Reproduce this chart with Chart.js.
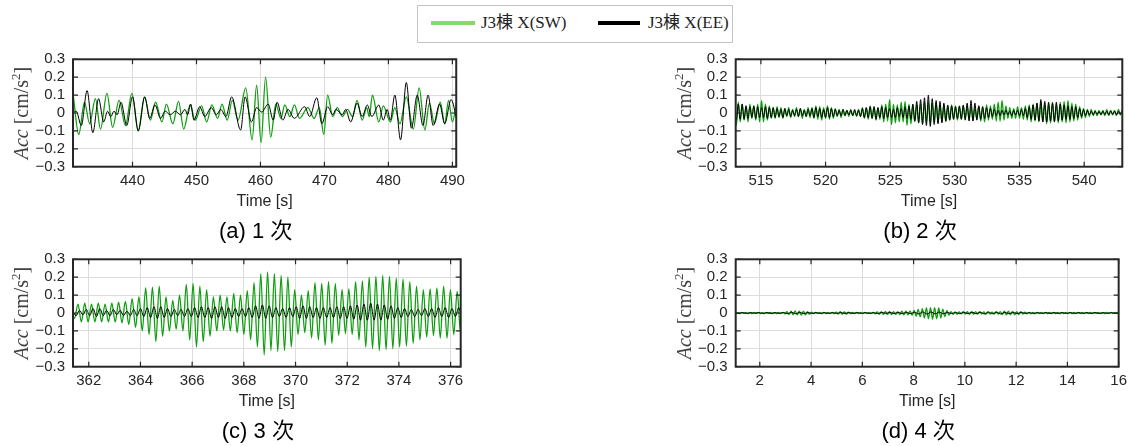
<!DOCTYPE html>
<html><head><meta charset="utf-8">
<script src="https://cdn.jsdelivr.net/npm/chart.js@4.4.0/dist/chart.umd.min.js"></script>
<style>
html,body{margin:0;padding:0;background:#fff;overflow:hidden;width:1133px;height:446px;}
canvas{position:absolute;}
#legend{position:absolute;left:417px;top:5px;width:316px;height:38px;border:1px solid #c4c4c4;background:#fff;box-sizing:border-box;font-family:"Liberation Serif","Noto Sans CJK JP",serif;font-size:17px;color:#222;}
.sw{position:absolute;height:4px;top:15px;}
.lt{position:absolute;top:7px;line-height:20px;white-space:nowrap;}
</style></head><body>
<div id="legend">
 <div class="sw" style="left:13px;width:44px;background:#86d96b"></div>
 <div class="lt" id="lg0" style="left:63px"></div>
 <div class="sw" style="left:180px;width:42px;background:#000"></div>
 <div class="lt" id="lg1" style="left:230px"></div>
</div>
<canvas id="ca" width="470" height="200" style="left:0px;top:50px"></canvas>
<canvas id="cb" width="470" height="200" style="left:662px;top:50px"></canvas>
<canvas id="cc" width="470" height="200" style="left:0px;top:250px"></canvas>
<canvas id="cd" width="470" height="200" style="left:662px;top:250px"></canvas>
<script>
// ---------- labels ----------
const seriesNames = ['J3棟 X(SW)', 'J3棟 X(EE)'];
const panelTitles = ['(a) 1 次', '(b) 2 次', '(c) 3 次', '(d) 4 次'];
const xTitle = 'Time [s]';
const yTickVals = [-0.3, -0.2, -0.1, 0, 0.1, 0.2, 0.3];
const yTickLabels = ['−0.3', '−0.2', '−0.1', '0', '0.1', '0.2', '0.3'];

// ---------- (a) 1 次 ----------
const aRange = [430.7, 490.6];
const aTicks = [440, 450, 460, 470, 480, 490];
const aSWTimes = [430.7,431.6,432.5,433.3,434.2,435.0,436.0,436.9,437.9,438.9,439.9,440.9,441.9,442.8,443.6,444.6,445.3,446.3,447.2,448.0,449.0,449.8,450.8,451.6,452.4,453.3,454.0,454.8,455.6,456.5,457.7,458.7,459.4,460.1,460.8,461.6,462.4,463.2,463.8,464.6,465.3,466.1,467.4,468.4,469.2,469.9,470.5,471.3,472.0,472.8,473.6,474.4,475.1,475.9,476.6,477.0,477.5,478.5,479.2,480.3,481.0,481.8,482.8,483.9,484.8,485.7,486.4,487.2,488.1,488.8,489.4,490.0,490.7];
const aSWAcc = [0.11,-0.12,0.06,-0.06,0.08,-0.09,0.11,-0.08,0.07,-0.07,0.11,-0.1,0.09,-0.04,0.06,-0.05,0.05,-0.06,0.065,-0.09,0.045,-0.04,0.04,-0.05,0.045,-0.03,0.05,-0.04,0.07,-0.04,0.14,-0.15,0.155,-0.165,0.2,-0.135,0.05,-0.03,0.045,-0.02,0.045,-0.03,0.03,-0.03,0.03,-0.12,0.1,-0.02,0.03,-0.02,0.02,-0.02,0.07,-0.04,0.03,-0.02,0.1,-0.05,0.04,-0.05,0.03,-0.06,0.09,-0.09,0.14,-0.095,0.055,-0.06,0.06,-0.06,0.07,-0.05,0.07];
const aEETimes = [430.7,431.2,432.0,432.9,433.8,434.7,435.5,436.1,436.6,437.1,437.6,438.2,439.1,440.0,440.9,441.9,442.7,443.5,444.4,445.1,445.9,446.7,447.5,448.2,448.6,449.1,449.6,450.5,451.3,452.3,453.1,453.8,454.6,455.5,456.9,457.6,458.6,459.4,460.2,461.2,462.0,462.6,463.5,464.3,465.3,466.9,467.7,468.8,469.6,470.5,471.3,471.8,472.8,473.3,474.1,475.1,475.9,476.7,477.4,478.5,479.2,479.8,480.3,481.0,481.9,482.8,483.6,484.5,485.4,486.2,487.0,488.0,488.8,489.8,490.7];
const aEEAcc = [0.0,0.01,-0.07,0.125,-0.11,0.08,-0.05,0.01,-0.02,0.01,-0.01,0.06,-0.07,0.09,-0.1,0.09,-0.03,0.045,-0.03,0.01,-0.01,0.01,-0.01,0.02,-0.01,0.05,-0.04,0.035,-0.02,0.03,-0.01,0.02,-0.02,0.09,-0.095,0.09,-0.05,0.03,0.005,0.05,-0.04,0.06,-0.04,0.02,-0.03,0.035,-0.02,0.085,-0.06,0.035,-0.01,0.02,-0.01,0.02,-0.05,0.055,-0.02,0.045,-0.02,0.045,-0.04,0.02,-0.04,0.1,-0.15,0.17,-0.085,0.1,-0.07,0.1,-0.07,0.05,-0.06,0.075,-0.04];

// ---------- (b) 2 次 (sampled every bStep s) ----------
const bRange = [513.05, 542.95];
const bTicks = [515, 520, 525, 530, 535, 540];
const bStep = 0.15;
const bSWStart = 512.95;
const bSWAcc = [
0.02,-0.07,0.06,-0.05,0.05,-0.04,0.04,-0.05,0.05,-0.03,0.04,-0.04,0.05,-0.05,0.07,-0.05,0.05,-0.04,0.04,-0.03,
0.03,-0.03,0.035,-0.025,0.03,-0.03,0.025,-0.02,0.03,-0.025,0.02,-0.02,0.03,-0.02,0.025,-0.03,0.02,-0.02,0.03,-0.025,
0.03,-0.03,0.04,-0.035,0.035,-0.04,0.03,-0.03,0.04,-0.035,0.03,-0.03,0.025,-0.02,0.02,-0.025,0.02,-0.015,0.015,-0.02,
0.02,-0.015,0.015,-0.02,0.02,-0.02,0.03,-0.03,0.03,-0.035,0.04,-0.03,0.035,-0.04,0.03,-0.035,0.045,-0.05,0.05,-0.045,
0.075,-0.065,0.05,-0.055,0.045,-0.05,0.06,-0.05,0.065,-0.07,0.05,-0.06,0.045,-0.05,0.05,-0.055,0.055,-0.06,0.06,-0.055,
0.06,-0.06,0.055,-0.05,0.06,-0.055,0.05,-0.05,0.045,-0.05,0.04,-0.04,0.045,-0.035,0.04,-0.04,0.035,-0.035,0.04,-0.03,
0.04,-0.035,0.035,-0.04,0.03,-0.035,0.04,-0.045,0.035,-0.05,0.045,-0.04,0.04,-0.035,0.05,-0.045,0.06,-0.045,0.07,-0.04,
0.04,-0.03,0.03,-0.03,0.025,-0.03,0.035,-0.03,0.03,-0.035,0.04,-0.04,0.045,-0.05,0.05,-0.045,0.055,-0.05,0.06,-0.05,
0.055,-0.06,0.05,-0.055,0.06,-0.05,0.05,-0.055,0.06,-0.05,0.065,-0.055,0.07,-0.05,0.055,-0.045,0.05,-0.04,0.035,-0.03,
0.025,-0.025,0.02,-0.02,0.02,-0.015,0.015,-0.015,0.015,-0.01,0.015,-0.015,0.02,-0.015,0.015,-0.01,0.015,-0.015,0.02,-0.01,
0.015,-0.01];
const bEEStart = 512.95;
const bEEAcc = [
0.03,-0.04,0.05,-0.035,0.05,-0.035,0.04,-0.03,0.035,-0.025,0.04,-0.03,0.035,-0.025,0.03,-0.025,0.035,-0.03,0.03,-0.025,
0.03,-0.025,0.025,-0.02,0.02,-0.025,0.025,-0.015,0.02,-0.02,0.015,-0.015,0.02,-0.02,0.025,-0.015,0.015,-0.02,0.02,-0.015,
0.025,-0.025,0.03,-0.02,0.025,-0.025,0.02,-0.025,0.03,-0.025,0.025,-0.02,0.02,-0.015,0.015,-0.015,0.02,-0.015,0.015,-0.01,
0.015,-0.015,0.02,-0.015,0.015,-0.02,0.025,-0.025,0.03,-0.025,0.035,-0.03,0.035,-0.035,0.03,-0.025,0.035,-0.03,0.03,-0.025,
0.025,-0.025,0.02,-0.025,0.03,-0.02,0.025,-0.025,0.035,-0.03,0.04,-0.035,0.05,-0.045,0.065,-0.055,0.075,-0.065,0.085,-0.07,
0.1,-0.075,0.08,-0.065,0.07,-0.06,0.065,-0.055,0.055,-0.045,0.045,-0.04,0.04,-0.035,0.035,-0.03,0.04,-0.035,0.045,-0.04,
0.055,-0.045,0.07,-0.045,0.055,-0.04,0.04,-0.035,0.035,-0.03,0.03,-0.025,0.025,-0.02,0.02,-0.015,0.015,-0.015,0.015,-0.01,
0.015,-0.01,0.01,-0.015,0.015,-0.01,0.015,-0.015,0.02,-0.015,0.025,-0.025,0.035,-0.035,0.045,-0.04,0.055,-0.045,0.075,-0.05,
0.065,-0.05,0.06,-0.045,0.055,-0.05,0.06,-0.045,0.05,-0.04,0.045,-0.035,0.04,-0.035,0.035,-0.03,0.035,-0.025,0.025,-0.02,
0.02,-0.015,0.015,-0.01,0.01,-0.01,0.01,-0.008,0.008,-0.01,0.01,-0.008,0.01,-0.01,0.012,-0.008,0.01,-0.01,0.01,-0.008,
0.01,-0.01];

// ---------- (c) 3 次 (sampled every cStep s) ----------
const cRange = [361.39, 376.39];
const cTicks = [362, 364, 366, 368, 370, 372, 374, 376];
const cStep = 0.131;
const cSWStart = 361.32;
const cSWAcc = [
0.04,-0.03,0.05,-0.05,0.055,-0.05,0.05,-0.05,0.055,-0.05,0.05,-0.05,0.055,-0.05,0.06,-0.055,0.065,-0.065,0.08,-0.08,
0.09,-0.1,0.14,-0.12,0.145,-0.16,0.15,-0.13,0.09,-0.1,0.07,-0.09,0.1,-0.1,0.16,-0.15,0.165,-0.19,0.15,-0.16,
0.13,-0.13,0.09,-0.1,0.1,-0.095,0.09,-0.1,0.11,-0.11,0.1,-0.12,0.125,-0.15,0.17,-0.19,0.22,-0.235,0.23,-0.21,
0.22,-0.215,0.21,-0.21,0.2,-0.19,0.13,-0.12,0.1,-0.11,0.125,-0.14,0.17,-0.15,0.165,-0.18,0.175,-0.17,0.165,-0.125,
0.13,-0.115,0.135,-0.12,0.175,-0.15,0.18,-0.19,0.2,-0.2,0.205,-0.21,0.21,-0.205,0.205,-0.2,0.195,-0.19,0.19,-0.185,
0.175,-0.17,0.15,-0.15,0.13,-0.135,0.135,-0.125,0.14,-0.14,0.15,-0.14,0.13,-0.12,0.12,-0.11,0.12];
const cEEStart = 361.38;
const cEEAcc = [
0.01,-0.015,0.015,-0.01,0.02,-0.015,0.025,-0.02,0.025,-0.015,0.015,-0.015,0.02,-0.01,0.015,-0.015,0.01,-0.015,0.02,-0.015,
0.025,-0.02,0.03,-0.025,0.035,-0.03,0.035,-0.025,0.025,-0.02,0.02,-0.015,0.02,-0.02,0.025,-0.02,0.03,-0.025,0.035,-0.025,
0.03,-0.03,0.035,-0.025,0.035,-0.03,0.03,-0.025,0.025,-0.02,0.025,-0.02,0.03,-0.025,0.04,-0.03,0.045,-0.03,0.04,-0.025,
0.03,-0.02,0.025,-0.025,0.03,-0.02,0.035,-0.03,0.04,-0.03,0.035,-0.025,0.03,-0.03,0.03,-0.025,0.03,-0.025,0.035,-0.03,
0.035,-0.03,0.04,-0.035,0.045,-0.04,0.05,-0.04,0.055,-0.04,0.05,-0.04,0.045,-0.035,0.04,-0.03,0.03,-0.025,0.025,-0.02,
0.02,-0.02,0.02,-0.015,0.025,-0.02,0.025,-0.025,0.03,-0.02,0.03,-0.025,0.025,-0.02,0.03,-0.025,0.02];

// ---------- (d) 4 次 ----------
const dRange = [1.06, 16];
const dTicks = [2, 4, 6, 8, 10, 12, 14, 16];
const dSWStart = 0.98, dSWStep = 0.08;
const dSWAcc = [
0.003,-0.003,0.002,-0.003,0.003,-0.002,0.003,-0.003,0.002,-0.003,0.003,-0.002,0.003,-0.003,0.002,-0.003,0.003,-0.002,0.003,-0.003,0.002,-0.003,0.003,-0.003,0.004,
-0.005,0.007,-0.008,0.01,-0.01,0.012,-0.011,0.01,-0.012,0.011,-0.01,0.008,-0.007,0.005,-0.004,0.004,-0.003,0.004,-0.004,0.003,-0.004,0.004,-0.003,0.004,-0.004,
0.005,-0.006,0.007,-0.007,0.006,-0.007,0.005,-0.004,0.004,-0.003,0.004,-0.003,0.003,-0.004,0.003,-0.003,0.004,-0.003,0.004,-0.005,0.006,-0.007,0.008,-0.008,0.009,
-0.008,0.009,-0.009,0.008,-0.008,0.007,-0.009,0.01,-0.011,0.012,-0.011,0.012,-0.013,0.015,-0.018,0.02,-0.022,0.025,-0.028,0.028,-0.032,0.03,-0.035,0.03,-0.032,
0.028,-0.028,0.022,-0.02,0.015,-0.012,0.008,-0.008,0.006,-0.007,0.006,-0.005,0.007,-0.006,0.007,-0.007,0.006,-0.007,0.008,-0.006,0.007,-0.006,0.006,-0.007,0.006,
-0.006,0.005,-0.006,0.007,-0.006,0.008,-0.009,0.01,-0.01,0.011,-0.01,0.009,-0.01,0.008,-0.009,0.007,-0.006,0.005,-0.005,0.004,-0.005,0.004,-0.004,0.004,-0.003,
0.004,-0.003,0.003,-0.004,0.004,-0.003,0.004,-0.004,0.003,-0.004,0.004,-0.003,0.004,-0.003,0.003,-0.004,0.004,-0.003,0.003,-0.003,0.004,-0.003,0.003,-0.003,0.003,
-0.003,0.003,-0.002,0.003,-0.003,0.002,-0.003,0.003,-0.002,0.003,-0.003,0.003,-0.002,0.003];
const dEEStart = 1.0, dEEStep = 0.16;
const dEEAcc = [
0.002,-0.002,0.002,-0.002,0.002,-0.001,0.002,-0.002,0.002,-0.002,0.002,-0.002,0.003,-0.004,0.004,-0.004,0.003,-0.003,0.002,-0.002,0.002,-0.002,0.002,-0.002,0.002,
-0.002,0.002,-0.002,0.002,-0.002,0.002,-0.002,0.002,-0.002,0.002,-0.003,0.003,-0.002,0.003,-0.003,0.003,-0.003,0.003,-0.003,0.004,-0.005,0.006,-0.006,0.006,-0.005,
0.005,-0.004,0.003,-0.003,0.003,-0.004,0.004,-0.004,0.005,-0.004,0.004,-0.005,0.005,-0.004,0.004,-0.005,0.004,-0.004,0.003,-0.003,0.003,-0.002,0.002,-0.002,0.002,
-0.002,0.002,-0.002,0.002,-0.002,0.002,-0.002,0.002,-0.002,0.002,-0.002,0.002,-0.002,0.002,-0.002,0.002,-0.002,0.002,-0.002,0.002];

// ---------- helpers ----------
const GREEN = '#0f9e0f';
const TICK_FONT = '"Liberation Sans", Arial, "Noto Sans CJK JP", sans-serif';
const sampled = (t0, dt, vals) => vals.map((v, i) => ({x: +(t0 + i * dt).toFixed(3), y: v}));
const paired = (ts, vs) => ts.map((t, i) => ({x: t, y: vs[i]}));

document.getElementById('lg0').textContent = seriesNames[0];
document.getElementById('lg1').textContent = seriesNames[1];

const framePlugin = {
  id: 'frame',
  afterDraw(chart, args, opts) {
    const {ctx, chartArea: a, scales: {x, y}} = chart;
    ctx.save();
    ctx.strokeStyle = '#262626';
    ctx.lineWidth = 1.2;
    ctx.beginPath();
    x.ticks.forEach(t => {
      const px = x.getPixelForValue(t.value);
      ctx.moveTo(px, a.bottom); ctx.lineTo(px, a.bottom - 5);
      ctx.moveTo(px, a.top); ctx.lineTo(px, a.top + 5);
    });
    y.ticks.forEach(t => {
      const py = y.getPixelForValue(t.value);
      ctx.moveTo(a.left, py); ctx.lineTo(a.left + 5, py);
      ctx.moveTo(a.right, py); ctx.lineTo(a.right - 5, py);
    });
    ctx.stroke();
    ctx.lineWidth = 2;
    ctx.strokeRect(a.left, a.top, a.right - a.left, a.bottom - a.top);
    // y-axis title
    ctx.save();
    ctx.translate(a.left - 51, (a.top + a.bottom) / 2);
    ctx.rotate(-Math.PI / 2);
    ctx.fillStyle = '#404040';
    ctx.textBaseline = 'alphabetic';
    ctx.textAlign = 'left';
    const parts = [
      {t: 'Acc', f: 'italic 20px "Liberation Serif", serif', dy: 0},
      {t: ' [cm/s', f: '20px "Liberation Serif", serif', dy: 0},
      {t: '2', f: '13px "Liberation Serif", serif', dy: -8},
      {t: ']', f: '20px "Liberation Serif", serif', dy: 0}
    ];
    let total = 0;
    parts.forEach(p => { ctx.font = p.f; p.w = ctx.measureText(p.t).width; total += p.w; });
    let cx = -total / 2;
    parts.forEach(p => { ctx.font = p.f; ctx.fillText(p.t, cx, 6 + p.dy); cx += p.w; });
    ctx.restore();
    // panel caption
    ctx.font = '22px "Liberation Sans", Arial, "Noto Sans CJK JP", sans-serif';
    ctx.fillStyle = '#000';
    ctx.textAlign = 'center';
    ctx.textBaseline = 'middle';
    ctx.fillText(opts.sub, (a.left + a.right) / 2 - 9, a.bottom + 65.3);
    ctx.restore();
  }
};

function makePanel(id, range, ticks, sw, ee, sub, yW, padR) {
  new Chart(document.getElementById(id), {
    type: 'line',
    data: {datasets: [
      {label: seriesNames[0], data: sw, borderColor: GREEN, borderWidth: 1.3, order: 1},
      {label: seriesNames[1], data: ee, borderColor: '#000000', borderWidth: 1.0, order: 0}
    ]},
    options: {
      responsive: false, animation: false, devicePixelRatio: 1,
      layout: {padding: {top: 9.3, right: padR, bottom: 38.4, left: 0}},
      elements: {point: {radius: 0}, line: {cubicInterpolationMode: 'monotone', fill: false}},
      plugins: {legend: {display: false}, tooltip: {enabled: false}, frame: {sub}},
      scales: {
        x: {
          type: 'linear', min: range[0], max: range[1],
          afterBuildTicks: s => { s.ticks = ticks.map(v => ({value: v})); },
          afterFit: s => { s.height = 44.9; },
          grid: {color: '#dcdcdc', lineWidth: 1, drawTicks: false},
          border: {display: false},
          ticks: {font: {family: TICK_FONT, size: 15}, color: '#262626', padding: 5, maxRotation: 0, autoSkip: false, callback: v => String(v)},
          title: {display: true, text: xTitle, font: {family: TICK_FONT, size: 16}, color: '#262626', padding: 0}
        },
        y: {
          min: -0.3, max: 0.3,
          afterBuildTicks: s => { s.ticks = yTickVals.map(v => ({value: v})); },
          afterFit: s => { s.width = yW; s.paddingTop = 0; s.paddingBottom = 0; },
          grid: {color: '#dcdcdc', lineWidth: 1, drawTicks: false},
          border: {display: false},
          ticks: {font: {family: TICK_FONT, size: 15}, color: '#262626', padding: 8, autoSkip: false, callback: (v, i) => yTickLabels[i]}
        }
      }
    },
    plugins: [framePlugin]
  });
}

makePanel('ca', aRange, aTicks, paired(aSWTimes, aSWAcc), paired(aEETimes, aEEAcc), panelTitles[0], 73, 9.3);
makePanel('cb', bRange, bTicks, sampled(bSWStart, bStep, bSWAcc), sampled(bEEStart, bStep, bEEAcc), panelTitles[1], 73.7, 9.7);
makePanel('cc', cRange, cTicks, sampled(cSWStart, cStep, cSWAcc), sampled(cEEStart, cStep, cEEAcc), panelTitles[2], 73, 9.3);
makePanel('cd', dRange, dTicks, sampled(dSWStart, dSWStep, dSWAcc), sampled(dEEStart, dEEStep, dEEAcc), panelTitles[3], 73.7, 10);
</script>
</body></html>
